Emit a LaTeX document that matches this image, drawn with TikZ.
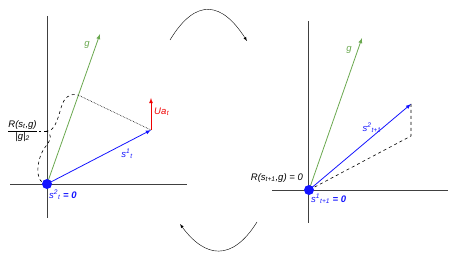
\documentclass[tikz,border=0pt]{standalone}
\usepackage{amsmath}
\usepackage{fontspec}
\setmainfont{Liberation Sans}
\usetikzlibrary{arrows}
\definecolor{ggreen}{RGB}{106,168,79}
\definecolor{vblue}{RGB}{20,20,255}
\definecolor{ured}{RGB}{240,0,0}
\newcommand{\vsub}[3]{#1\textsuperscript{#2}\textsubscript{#3}}
\begin{document}
\begin{tikzpicture}[x=1pt, y=-1pt,
		>=latex,   %Pfeilspitzen
		font=\fontsize{9.5}{11}\selectfont\itshape,
		axis/.style={draw=black!75, line width=0.8pt},
		vec/.style={->, line width=0.8pt},
		lbl/.style={inner sep=1pt}]
		\useasboundingbox (0,0) rectangle (455,259);
		% Punkte
		\coordinate (O1) at (47,184);
		\coordinate (G1) at (100,34);
		\coordinate (S1) at (151,130);
		\coordinate (U1) at (151,98);
		\coordinate (P1) at (78,95);
		\coordinate (T1) at (47,131);
		\coordinate (O2) at (309,190);
		\coordinate (G2) at (362,38);
		\coordinate (S2) at (411,104);
		\coordinate (Q2) at (411,136);
		% Achsen links
		\draw[axis] (47,16) -- (47,218);
		\draw[axis] (10,184) -- (187,184);
		% Achsen rechts
		\draw[axis] (308,21) -- (308,223);
		\draw[axis] (272,190) -- (448,190);
		% Vektoren links
		\draw[vec, ggreen] (O1) -- (G1);
		\draw[vec, vblue] (O1) -- (S1);
		\draw[vec, ured] (S1) -- (U1);
		\draw[densely dotted, line width=0.6pt] (S1) -- (P1);
		\draw[dashed, line width=0.6pt] (O1) .. controls (34,184) and (36,158) .. (46,146)
			.. controls (52,139) and (51,133) .. (T1)
			.. controls (54,131) and (57,122) .. (61,108)
			.. controls (64,97) and (70,93) .. (P1);
		\draw[dashed, line width=0.6pt] (T1) -- ++(-8,0) coordinate (T1l);
		\fill[vblue] (O1) circle (5);
		% Beschriftung links
		\node[lbl, ggreen] (g1) at (87,45) {g};
		\node[lbl, vblue] (s1) at (127,154) {\vsub{s}{1}{t}};
		\node[lbl, ured, right] (ua) at (153,112) {U\vsub{a}{}{t}};
		\node[lbl, left] (rg) at (T1l) {$\dfrac{\text{R(s\textsubscript{t},g)}}{\text{|g|\textsubscript{2}}}$};
		\node[lbl, vblue, right] (s2z) at (48,195) {\vsub{s}{2}{t} \textbf{= 0}};
		% Vektoren rechts
		\draw[vec, ggreen] (O2) -- (G2);
		\draw[vec, vblue] (O2) -- (S2);
		\draw[dashed, line width=0.6pt] (S2) -- (Q2) -- (O2);
		\fill[vblue] (O2) circle (5);
		% Beschriftung rechts
		\node[lbl, ggreen] (g2) at (349,50) {g};
		\node[lbl, vblue] (s3) at (372,128) {\vsub{s}{2}{t+1}};
		\node[lbl, left] (r0) at (304,178) {R(s\textsubscript{t+1},g) = 0};
		\node[lbl, vblue, right] (s3z) at (310,199) {\vsub{s}{1}{t+1} \textbf{= 0}};
		% Uebergaenge
		\coordinate (a1) at (170,40);
		\coordinate (a2) at (247,41);
		\coordinate (b1) at (257,222);
		\coordinate (b2) at (180,224);
		\draw[->] (a1) .. controls (196,-3) and (222,2) .. (a2);
		\draw[->] (b1) .. controls (232,262) and (205,258) .. (b2);
\end{tikzpicture}
\end{document}
